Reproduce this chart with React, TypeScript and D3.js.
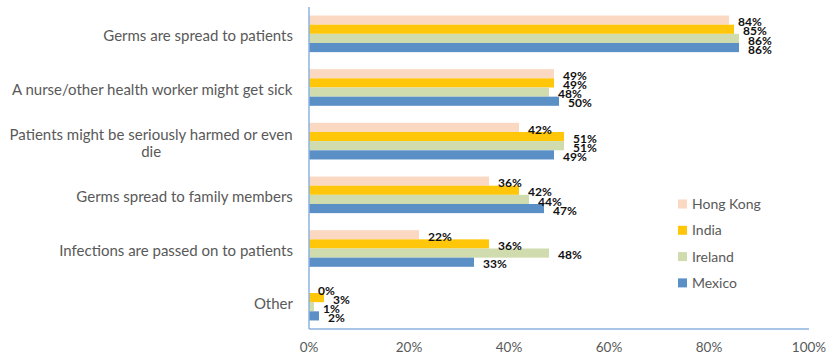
import React from "react";
import * as d3 from "d3";

const categories = [
  "Germs are spread to patients",
  "A nurse/other health worker might get sick",
  "Patients might be seriously harmed or even die",
  "Germs spread to family members",
  "Infections are passed on to patients",
  "Other",
];
const seriesNames = ["Hong Kong", "India", "Ireland", "Mexico"];
const hongKong = [84, 49, 42, 36, 22, 0];
const india = [85, 49, 51, 42, 36, 3];
const ireland = [86, 48, 51, 44, 48, 1];
const mexico = [86, 50, 49, 47, 33, 2];
const xTicks = [0, 20, 40, 60, 80, 100];

const seriesValues = [hongKong, india, ireland, mexico];
const colors = ["#FBD8C1", "#FFC60A", "#D0DCAD", "#5B90C7"];

const W = 827;
const H = 362;
const FONT = "Lato, 'Open Sans', sans-serif";
const LABEL_SIZE = 15;

let ctx: CanvasRenderingContext2D | null = null;
function measure(text: string, font: string): number {
  if (!ctx) ctx = document.createElement("canvas").getContext("2d");
  if (!ctx) return text.length * 7;
  ctx.font = font;
  return ctx.measureText(text).width;
}

function wrap(text: string, maxW: number): string[] {
  const words = text.split(" ");
  const lines: string[] = [];
  let cur = "";
  for (const w of words) {
    const t = cur ? cur + " " + w : w;
    if (measure(t, `${LABEL_SIZE}px ${FONT}`) > maxW && cur) {
      lines.push(cur);
      cur = w;
    } else cur = t;
  }
  if (cur) lines.push(cur);
  return lines;
}

export default function App() {
  const x = d3.scaleLinear().domain([0, 100]).range([309, 809]);
  const y0 = d3
    .scaleBand<string>()
    .domain(categories)
    .range([7, 329])
    .paddingInner(0.318)
    .paddingOuter(0.159);
  const y1 = d3
    .scaleBand<string>()
    .domain(seriesNames)
    .range([0, y0.bandwidth()]);
  const step = y0.step();
  const plotTop = 7;
  const plotBottom = 329;

  return (
    <svg
      width={W}
      height={H}
      style={{ position: "absolute", left: 0, top: 0, background: "#fff" }}
      fontFamily={FONT}
    >
      {categories.map((c, ci) => (
        <g key={c} transform={`translate(0,${y0(c)})`}>
          {seriesNames.map((s, si) => {
            const v = seriesValues[si][ci];
            return (
              <rect
                key={s}
                x={x(0)}
                y={y1(s)}
                width={Math.max(0, x(v) - x(0))}
                height={y1.bandwidth()}
                fill={colors[si]}
              />
            );
          })}
        </g>
      ))}
      <line x1={x(0)} x2={x(0)} y1={plotTop} y2={plotBottom} stroke="#8DB3E2" strokeWidth={1.5} />
      <line x1={x(0)} x2={x(100)} y1={plotBottom} y2={plotBottom} stroke="#8DB3E2" strokeWidth={1.5} />
      {categories.map((c, ci) => (
        <g key={c + "l"} transform={`translate(0,${y0(c)})`}>
          {seriesNames.map((s, si) => {
            const v = seriesValues[si][ci];
            return (
              <text
                key={s}
                x={x(v) + 9}
                y={(y1(s) || 0) + y1.bandwidth() / 2 + 2}
                dy="0.35em"
                fontSize={12}
                fontWeight="bold"
                fill="#111"
              >
                {v}%
              </text>
            );
          })}
        </g>
      ))}
      {categories.map((c) => {
        const lines = wrap(c, 290);
        const cy = (y0(c) || 0) - (step - y0.bandwidth()) / 2 + step / 2 + 2;
        const lh = 16.5;
        const widths = lines.map((l) => measure(l, `${LABEL_SIZE}px ${FONT}`));
        const maxW = Math.max(...widths);
        const right = 293;
        return (
          <text key={c + "c"} fontSize={LABEL_SIZE} fill="#595959" textAnchor="middle">
            {lines.map((l, i) => (
              <tspan
                key={i}
                x={right - maxW / 2}
                y={cy + (i - (lines.length - 1) / 2) * lh}
                dy="0.35em"
              >
                {l}
              </tspan>
            ))}
          </text>
        );
      })}
      {xTicks.map((t) => (
        <text
          key={t}
          x={x(t)}
          y={347}
          dy="0.35em"
          textAnchor="middle"
          fontSize={13.5}
          fill="#595959"
        >
          {t}%
        </text>
      ))}
      {seriesNames.map((s, i) => (
        <g key={s} transform={`translate(678,${204 + i * 26.3})`}>
          <rect x={0} y={-4.5} width={9} height={9} fill={colors[i]} />
          <text x={14} y={0} dy="0.35em" fontSize={14} fill="#595959">
            {s}
          </text>
        </g>
      ))}
    </svg>
  );
}
